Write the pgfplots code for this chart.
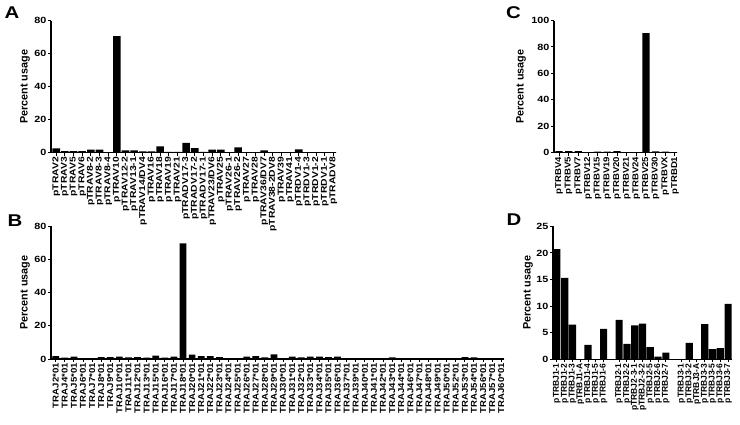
\documentclass[border=0pt]{standalone}
\usepackage{fontspec}
\setmainfont{Liberation Sans}
\newfontfamily\xAf[FakeStretch=1.22]{Liberation Sans}
\newfontfamily\xBf[FakeStretch=1.13]{Liberation Sans}
\newfontfamily\xDf[FakeStretch=1.0]{Liberation Sans}
\newfontfamily\ytf[FakeStretch=1.2]{Liberation Sans}
\newfontfamily\letf[FakeStretch=1.2]{Liberation Sans}
\usepackage{pgfplots}
\pgfplotsset{compat=1.18}
\pgfplotsset{
  panel/.style={
    scale only axis, ybar, ymin=0,
    axis x line*=bottom, axis y line*=left,
    axis line style={line width=1.2pt,-},
    tick align=outside, major tick length=3pt,
    tick style={black, line width=1pt},
    /pgf/number format/assume math mode=true,
    yticklabel style={font=\ytf\bfseries\fontsize{9}{10}\selectfont, inner sep=1.5pt},
    x tick label style={rotate=90, anchor=east, inner sep=1pt},
    ylabel={Percent usage},
    ylabel style={font=\bfseries\fontsize{10.8}{12}\selectfont, anchor=center},
    clip=false,
  }
}
\begin{document}
\begin{tikzpicture}[x=1pt,y=1pt]
\path[use as bounding box] (0,0) rectangle (740,-424);
% Panel A
\begin{axis}[panel, at={(51pt,-152.7pt)}, anchor=south west,
  width=285pt, height=132pt, xmin=-0.6, xmax=32.3, ymax=80,
  ytick={0,20,40,60,80}, bar width=0.88,
  xtick={0,...,32},
  xticklabels={pTRAV2,pTRAV3,pTRAV5,pTRAV6,pTRAV8-2,pTRAV8-3,pTRAV8-4,pTRAV10,pTRAV12-2,pTRAV13-1,pTRAV14/DV4,pTRAV16,pTRAV18,pTRAV19,pTRAV21,pTRADV17-3,pTRADV17-2,pTRADV17-1,pTRAV23/DV6,pTRAV25,pTRAV26-1,pTRAV26-2,pTRAV27,pTRAV28,pTRAV36/DV7,pTRAV38-2DV8,pTRAV39,pTRAV41,pTRDV1-4,pTRDV1-3,pTRDV1-2,pTRDV1-1,pTRADV8},
  x tick label style={font=\xAf\bfseries\fontsize{8.5}{9}\selectfont},
  ylabel style={at={([xshift=-26pt]axis description cs:0,0.5)}}]
\addplot[fill=black, draw=none] coordinates {
(0,2.6) (1,1) (2,1) (3,1) (4,1.8) (5,1.8) (6,0) (7,70.7) (8,1.4) (9,1.4)
(10,0.8) (11,0.8) (12,3.8) (13,0.5) (14,0.5) (15,6) (16,2.8) (17,0.5) (18,1.8) (19,1.8)
(20,0) (21,3.2) (22,0) (23,0) (24,1.4) (25,0.4) (26,0) (27,0.4) (28,2) (29,0.4)
(30,0) (31,0) (32,0)};
\end{axis}
% Panel B
\begin{axis}[panel, at={(51pt,-359pt)}, anchor=south west,
  width=453pt, height=133pt, xmin=-0.52, xmax=49.3, ymax=80,
  ytick={0,20,40,60,80}, bar width=0.74,
  xtick={0,...,49},
  xticklabels={TRAJ2*01,TRAJ4*01,TRAJ5*01,TRAJ6*01,TRAJ7*01,TRAJ8*01,TRAJ9*01,TRAJ10*01,TRAJ11*01,TRAJ12*01,TRAJ13*01,TRAJ15*01,TRAJ16*01,TRAJ17*01,TRAJ18*01,TRAJ20*01,TRAJ21*01,TRAJ22*01,TRAJ23*01,TRAJ24*01,TRAJ25*01,TRAJ26*01,TRAJ27*01,TRAJ28*01,TRAJ29*01,TRAJ30*01,TRAJ31*01,TRAJ32*01,TRAJ33*01,TRAJ34*01,TRAJ35*01,TRAJ36*01,TRAJ37*01,TRAJ39*01,TRAJ40*01,TRAJ41*01,TRAJ42*01,TRAJ43*01,TRAJ44*01,TRAJ46*01,TRAJ47*01,TRAJ48*01,TRAJ49*01,TRAJ50*01,TRAJ52*01,TRAJ53*01,TRAJ54*01,TRAJ56*01,TRAJ57*01,TRAJ60*01},
  x tick label style={font=\xBf\bfseries\fontsize{8.5}{9}\selectfont},
  ylabel style={at={([xshift=-26pt]axis description cs:0,0.5)}}]
\addplot[fill=black, draw=none] coordinates {
(0,1.8) (1,0.8) (2,1.4) (3,0.6) (4,0.6) (5,1.2) (6,1.2) (7,1.4) (8,1) (9,1.2)
(10,0.8) (11,2) (12,0.8) (13,1.4) (14,69.5) (15,2.6) (16,1.8) (17,1.8) (18,1.2) (19,0.6)
(20,0.6) (21,1.4) (22,1.8) (23,1) (24,2.8) (25,0.6) (26,1.4) (27,1) (28,1.4) (29,1.4)
(30,1.2) (31,1.4) (32,0.6) (33,0.6) (34,0.6) (35,0.6) (36,0.4) (37,1) (38,0.6) (39,0)
(40,0.4) (41,0.4) (42,0) (43,0) (44,0) (45,1.2) (46,1) (47,0.4) (48,0) (49,0)};
\end{axis}
% Panel C
\begin{axis}[panel, at={(554pt,-152.5pt)}, anchor=south west,
  width=123.3pt, height=132pt, xmin=-0.52, xmax=12.24, ymax=100,
  ytick={0,20,40,60,80,100}, bar width=0.75,
  xtick={0,...,12},
  xticklabels={pTRBV4,pTRBV5,pTRBV7,pTRBV12,pTRBV15,pTRBV19,pTRBV20,pTRBV21,pTRBV24,pTRBV25,pTRBV30,pTRBVX,pTRBD1},
  x tick label style={font=\xBf\bfseries\fontsize{8.5}{9}\selectfont},
  ylabel style={at={([xshift=-33pt]axis description cs:0,0.5)}}]
\addplot[fill=black, draw=none] coordinates {
(0,1) (1,1) (2,1) (3,0.3) (4,0.6) (5,0.6) (6,1) (7,0.3) (8,0.3) (9,90.4)
(10,0.8) (11,0.6) (12,0)};
\end{axis}
% Panel D
\begin{axis}[panel, at={(553pt,-359.3pt)}, anchor=south west,
  width=179pt, height=133pt, xmin=-0.5, xmax=22.5, ymax=25,
  ytick={0,5,10,15,20,25}, bar width=0.92,
  xtick={0,1,2,3,4,5,6,8,9,10,11,12,13,14,16,17,18,19,20,21,22},
  xticklabels={pTRBJ1-1,pTRBJ1-2,pTRBJ1-3,pTRBJ1-A,pTRBJ1-4,pTRBJ1-5,pTRBJ1-6,pTRBJ2-1,pTRBJ2-2,pTRBJ2-3-1,pTRBJ2-3-2,pTRBJ2-5,pTRBJ2-6,pTRBJ2-7,pTRBJ3-1,pTRBJ3-2,pTRBJ3-A,pTRBJ3-3,pTRBJ3-5,pTRBJ3-6,pTRBJ3-7},
  x tick label style={font=\xDf\bfseries\fontsize{8.5}{9}\selectfont},
  ylabel style={at={([xshift=-25pt]axis description cs:0,0.5)}}]
\addplot[fill=black, draw=none] coordinates {
(0,20.7) (1,15.3) (2,6.5) (3,0) (4,2.7) (5,0) (6,5.7)
(8,7.4) (9,2.9) (10,6.4) (11,6.7) (12,2.3) (13,0.5) (14,1.26)
(16,0) (17,3.1) (18,0) (19,6.6) (20,1.9) (21,2.1) (22,10.4)};
\end{axis}
\node[font=\letf\bfseries\fontsize{17}{18}\selectfont] at (12,-12.5) {A};
\node[font=\letf\bfseries\fontsize{17}{18}\selectfont] at (15,-220.5) {B};
\node[font=\letf\bfseries\fontsize{17}{18}\selectfont] at (513.5,-12.5) {C};
\node[font=\letf\bfseries\fontsize{17}{18}\selectfont] at (514,-220) {D};
\end{tikzpicture}
\end{document}
